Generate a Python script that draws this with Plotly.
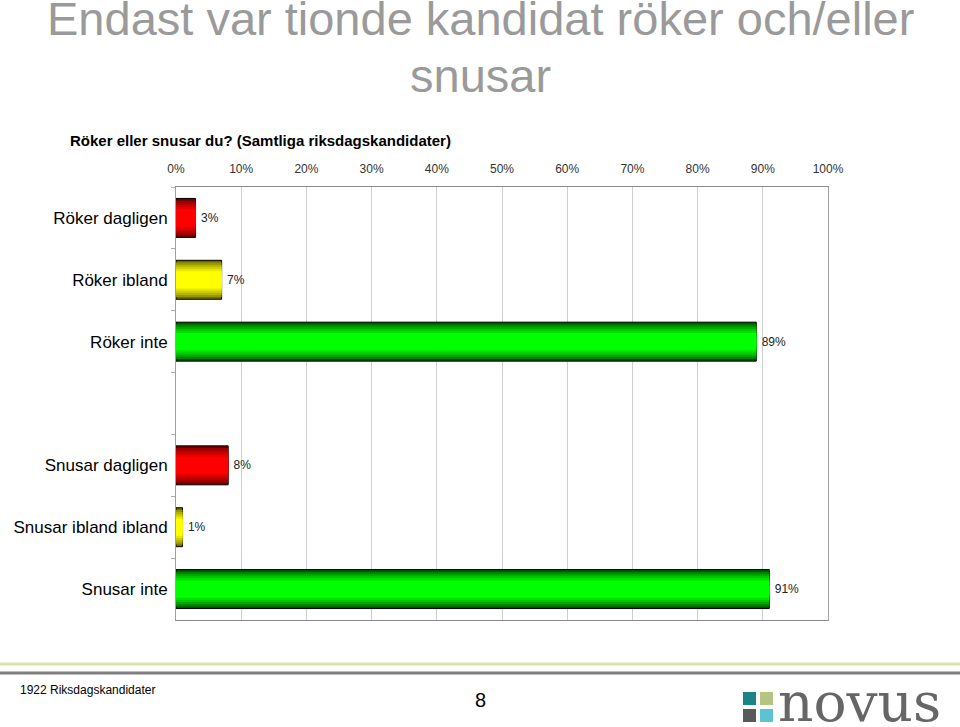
import plotly.graph_objects as go

# ---- data ----
categories = ["Röker dagligen", "Röker ibland", "Röker inte", " ",
              "Snusar dagligen", "Snusar ibland ibland", "Snusar inte"]
values = [3, 7, 89, None, 8, 1, 91]
value_labels = ["3%", "7%", "89%", "", "8%", "1%", "91%"]
bar_kind = ["red", "yellow", "green", None, "red", "yellow", "green"]
x_ticks = [0, 10, 20, 30, 40, 50, 60, 70, 80, 90, 100]
x_tick_labels = [f"{v}%" for v in x_ticks]

title_line1 = "Endast var tionde kandidat röker och/eller"
title_line2 = "snusar"
subtitle_text = "<b>Röker eller snusar du? (Samtliga riksdagskandidater)</b>"
footer_left = "1922 Riksdagskandidater"
page_number = "8"

# gradient end colours: (edge, middle)
palette = {
    "red": ((110, 0, 0), (255, 0, 0)),
    "yellow": ((110, 110, 0), (255, 255, 0)),
    "green": ((0, 85, 0), (0, 255, 0)),
}

W, H = 960, 727
L, R, T, B = 176, 132, 187, 107
PW, PH = W - L - R, H - T - B


def px2x(px):
    return (px - L) / PW


def px2y(py):
    return (H - B - py) / PH


FONT = "Liberation Sans, Arial, sans-serif"

fig = go.Figure()

n_layers = 9
full_width = 0.63
for k in range(n_layers):
    t = k / (n_layers - 1)
    w = full_width * (1 - k / n_layers)
    colors = []
    for kind in bar_kind:
        if kind is None:
            colors.append("rgba(0,0,0,0)")
            continue
        (e, m) = palette[kind]
        f = min(1.0, (t * 1.6)) ** 0.8
        c = tuple(int(round(e[i] + (m[i] - e[i]) * f)) for i in range(3))
        colors.append(f"rgb{c}")
    outer = k == 0
    fig.add_trace(go.Bar(
        y=categories, x=values, orientation="h", width=w,
        marker=dict(color=colors,
                    line=dict(color="#000000", width=1 if outer else 0)),
        text=[("\u2009" + s) if s else s for s in value_labels] if outer else None,
        textposition="outside" if outer else "none",
        textfont=dict(family=FONT, size=12, color="#222222"),
        cliponaxis=False, hoverinfo="skip", showlegend=False,
    ))

fig.update_layout(
    width=W, height=H,
    margin=dict(l=L, r=R, t=T, b=B, pad=0),
    paper_bgcolor="white", plot_bgcolor="white",
    barmode="overlay",
    font=dict(family=FONT, color="#000000"),
    xaxis=dict(
        side="top", range=[0, 100], tickvals=x_ticks, ticktext=x_tick_labels,
        showgrid=True, gridcolor="#cfcfcf", gridwidth=1,
        showline=True, linecolor="#8a8a8a", linewidth=1, mirror=True,
        ticks="", ticklabelstandoff=8,
        tickfont=dict(family=FONT, size=12, color="#333333"),
        zeroline=False, fixedrange=True,
    ),
    yaxis=dict(
        categoryorder="array", categoryarray=categories,
        autorange="reversed",
        showline=True, linecolor="#a0a0a0", linewidth=1, mirror=True,
        ticks="outside", tickson="boundaries", ticklen=4, tickcolor="#b0b0b0",
        ticklabelstandoff=4,
        tickfont=dict(family=FONT, size=17, color="#000000"),
        showgrid=False, fixedrange=True,
    ),
)

annotations = [
    dict(text=title_line1, x=px2x(480), y=px2y(19), xanchor="center", yanchor="middle",
         font=dict(family=FONT, size=47, color="#9a9a9a")),
    dict(text=title_line2, x=px2x(480), y=px2y(75), xanchor="center", yanchor="middle",
         font=dict(family=FONT, size=47, color="#9a9a9a")),
    dict(text=subtitle_text, x=px2x(68), y=px2y(141), xanchor="left", yanchor="middle",
         font=dict(family=FONT, size=15, color="#000000")),
    dict(text=footer_left, x=px2x(18), y=px2y(690), xanchor="left", yanchor="middle",
         font=dict(family=FONT, size=12, color="#000000")),
    dict(text=page_number, x=px2x(480), y=px2y(700), xanchor="center", yanchor="middle",
         font=dict(family=FONT, size=20, color="#000000")),
    dict(text="novus", x=px2x(776), y=px2y(702), xanchor="left", yanchor="middle",
         font=dict(family="DejaVu Serif, serif", size=55, color="#666666")),
]
for a in annotations:
    a.update(xref="paper", yref="paper", showarrow=False)
fig.update_layout(annotations=annotations)

shapes = [
    dict(type="line", x0=px2x(0), x1=px2x(960), y0=px2y(664), y1=px2y(664),
         line=dict(color="#d9e4a6", width=3)),
    dict(type="line", x0=px2x(0), x1=px2x(960), y0=px2y(673), y1=px2y(673),
         line=dict(color="#7f7f7f", width=3)),
]
logo_squares = [
    (743, 692, "#1a8585"), (760, 692, "#b5c47e"),
    (743, 709, "#5a5a5a"), (760, 709, "#5cc3d2"),
]
for (sx, sy, col) in logo_squares:
    shapes.append(dict(type="rect", x0=px2x(sx), x1=px2x(sx + 13),
                       y0=px2y(sy), y1=px2y(sy + 13),
                       fillcolor=col, line=dict(width=0)))
for s in shapes:
    s.update(xref="paper", yref="paper", layer="above")
fig.update_layout(shapes=shapes)

fig.write_html("out.html")
